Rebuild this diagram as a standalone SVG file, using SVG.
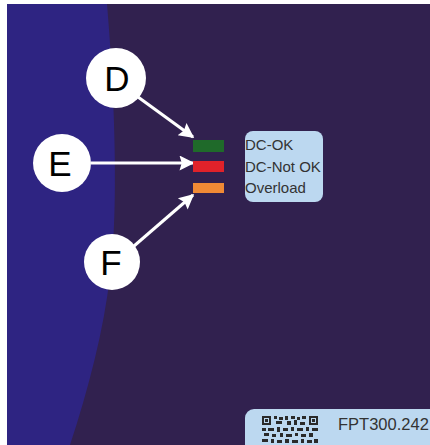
<svg xmlns="http://www.w3.org/2000/svg" width="430" height="445" viewBox="0 0 430 445">
<defs>
<style>
.lbl{font-family:"Liberation Sans",Arial,sans-serif;font-size:35px;fill:#000;text-anchor:middle}
.leg{font-family:"Liberation Sans",Arial,sans-serif;font-size:15px;fill:#333}
.circ{fill:#fff}
.conn{stroke:#fff;stroke-width:3;fill:none;marker-end:url(#ah)}
.qr{fill:#2a2a2a}
</style>
<marker id="ah" viewBox="0 0 10 10" refX="9" refY="5" markerWidth="5.5" markerHeight="5" orient="auto" markerUnits="strokeWidth">
<path d="M0,0 L10,5 L0,10 L1.5,5 z" fill="#fff"/>
</marker>
</defs>
<rect x="0" y="0" width="430" height="445" fill="#fff"/>
<rect x="7" y="4" width="423" height="441" fill="#31214f"/>
<path d="M7,4 L107,4 C116,110 118,220 110,275 C104,330 88,390 70,445 L7,445 z" fill="#2e2482"/>
<g id="connectors">
<line class="conn" x1="138" y1="97" x2="193" y2="137"/>
<line class="conn" x1="91" y1="163" x2="193" y2="163"/>
<line class="conn" x1="134" y1="246" x2="193" y2="195"/>
</g>
<g id="node-D"><circle class="circ" cx="116" cy="78" r="30"/><text class="lbl" x="117" y="91">D</text></g>
<g id="node-E"><circle class="circ" cx="62" cy="163" r="29"/><text class="lbl" x="60" y="176">E</text></g>
<g id="node-F"><circle class="circ" cx="112" cy="262" r="28"/><text class="lbl" x="111" y="275">F</text></g>
<g id="leds">
<rect x="193" y="140" width="31" height="12" fill="#1f6a2a"/>
<rect x="193" y="161" width="31" height="11" fill="#e0222a"/>
<rect x="193" y="183" width="31" height="10" fill="#f08a35"/>
</g>
<g id="legend">
<rect x="245" y="131" width="78" height="71" rx="8" fill="#bcd8f0"/>
<text class="leg" x="245" y="150">DC-OK</text>
<text class="leg" x="245" y="172">DC-Not OK</text>
<text class="leg" x="245" y="193">Overload</text>
</g>
<g id="label-plate">
<rect x="245" y="409" width="200" height="50" rx="9" fill="#bcd8f0"/>
<g class="qr">
<rect x="262" y="416" width="9" height="9"/><rect x="264" y="418" width="5" height="5" fill="#bcd8f0"/><rect x="265" y="419" width="3" height="3"/>
<rect x="309" y="416" width="9" height="9"/><rect x="311" y="418" width="5" height="5" fill="#bcd8f0"/><rect x="312" y="419" width="3" height="3"/>
<rect x="274" y="416" width="3" height="3"/><rect x="279" y="417" width="4" height="3"/><rect x="285" y="416" width="3" height="4"/><rect x="291" y="416" width="4" height="3"/><rect x="297" y="417" width="3" height="3"/><rect x="302" y="416" width="4" height="3"/>
<rect x="276" y="421" width="6" height="3"/><rect x="287" y="421" width="4" height="4"/><rect x="294" y="420" width="3" height="5"/><rect x="300" y="422" width="5" height="3"/>
<rect x="262" y="428" width="4" height="3"/><rect x="268" y="428" width="6" height="3"/><rect x="277" y="427" width="3" height="5"/><rect x="283" y="428" width="5" height="3"/><rect x="291" y="427" width="3" height="4"/><rect x="297" y="428" width="6" height="3"/><rect x="306" y="427" width="3" height="4"/><rect x="312" y="428" width="6" height="3"/>
<rect x="264" y="433" width="5" height="3"/><rect x="272" y="434" width="4" height="3"/><rect x="280" y="433" width="3" height="4"/><rect x="286" y="434" width="6" height="3"/><rect x="295" y="433" width="3" height="3"/><rect x="301" y="434" width="5" height="3"/><rect x="309" y="433" width="4" height="4"/>
<rect x="262" y="439" width="6" height="3"/><rect x="271" y="439" width="3" height="4"/><rect x="277" y="440" width="5" height="3"/><rect x="285" y="439" width="4" height="4"/><rect x="292" y="440" width="6" height="3"/><rect x="301" y="439" width="3" height="4"/><rect x="307" y="440" width="5" height="3"/><rect x="314" y="439" width="4" height="4"/>
</g>
<text class="leg" x="338" y="430" style="font-size:16.5px">FPT300.242</text>
</g>
</svg>
